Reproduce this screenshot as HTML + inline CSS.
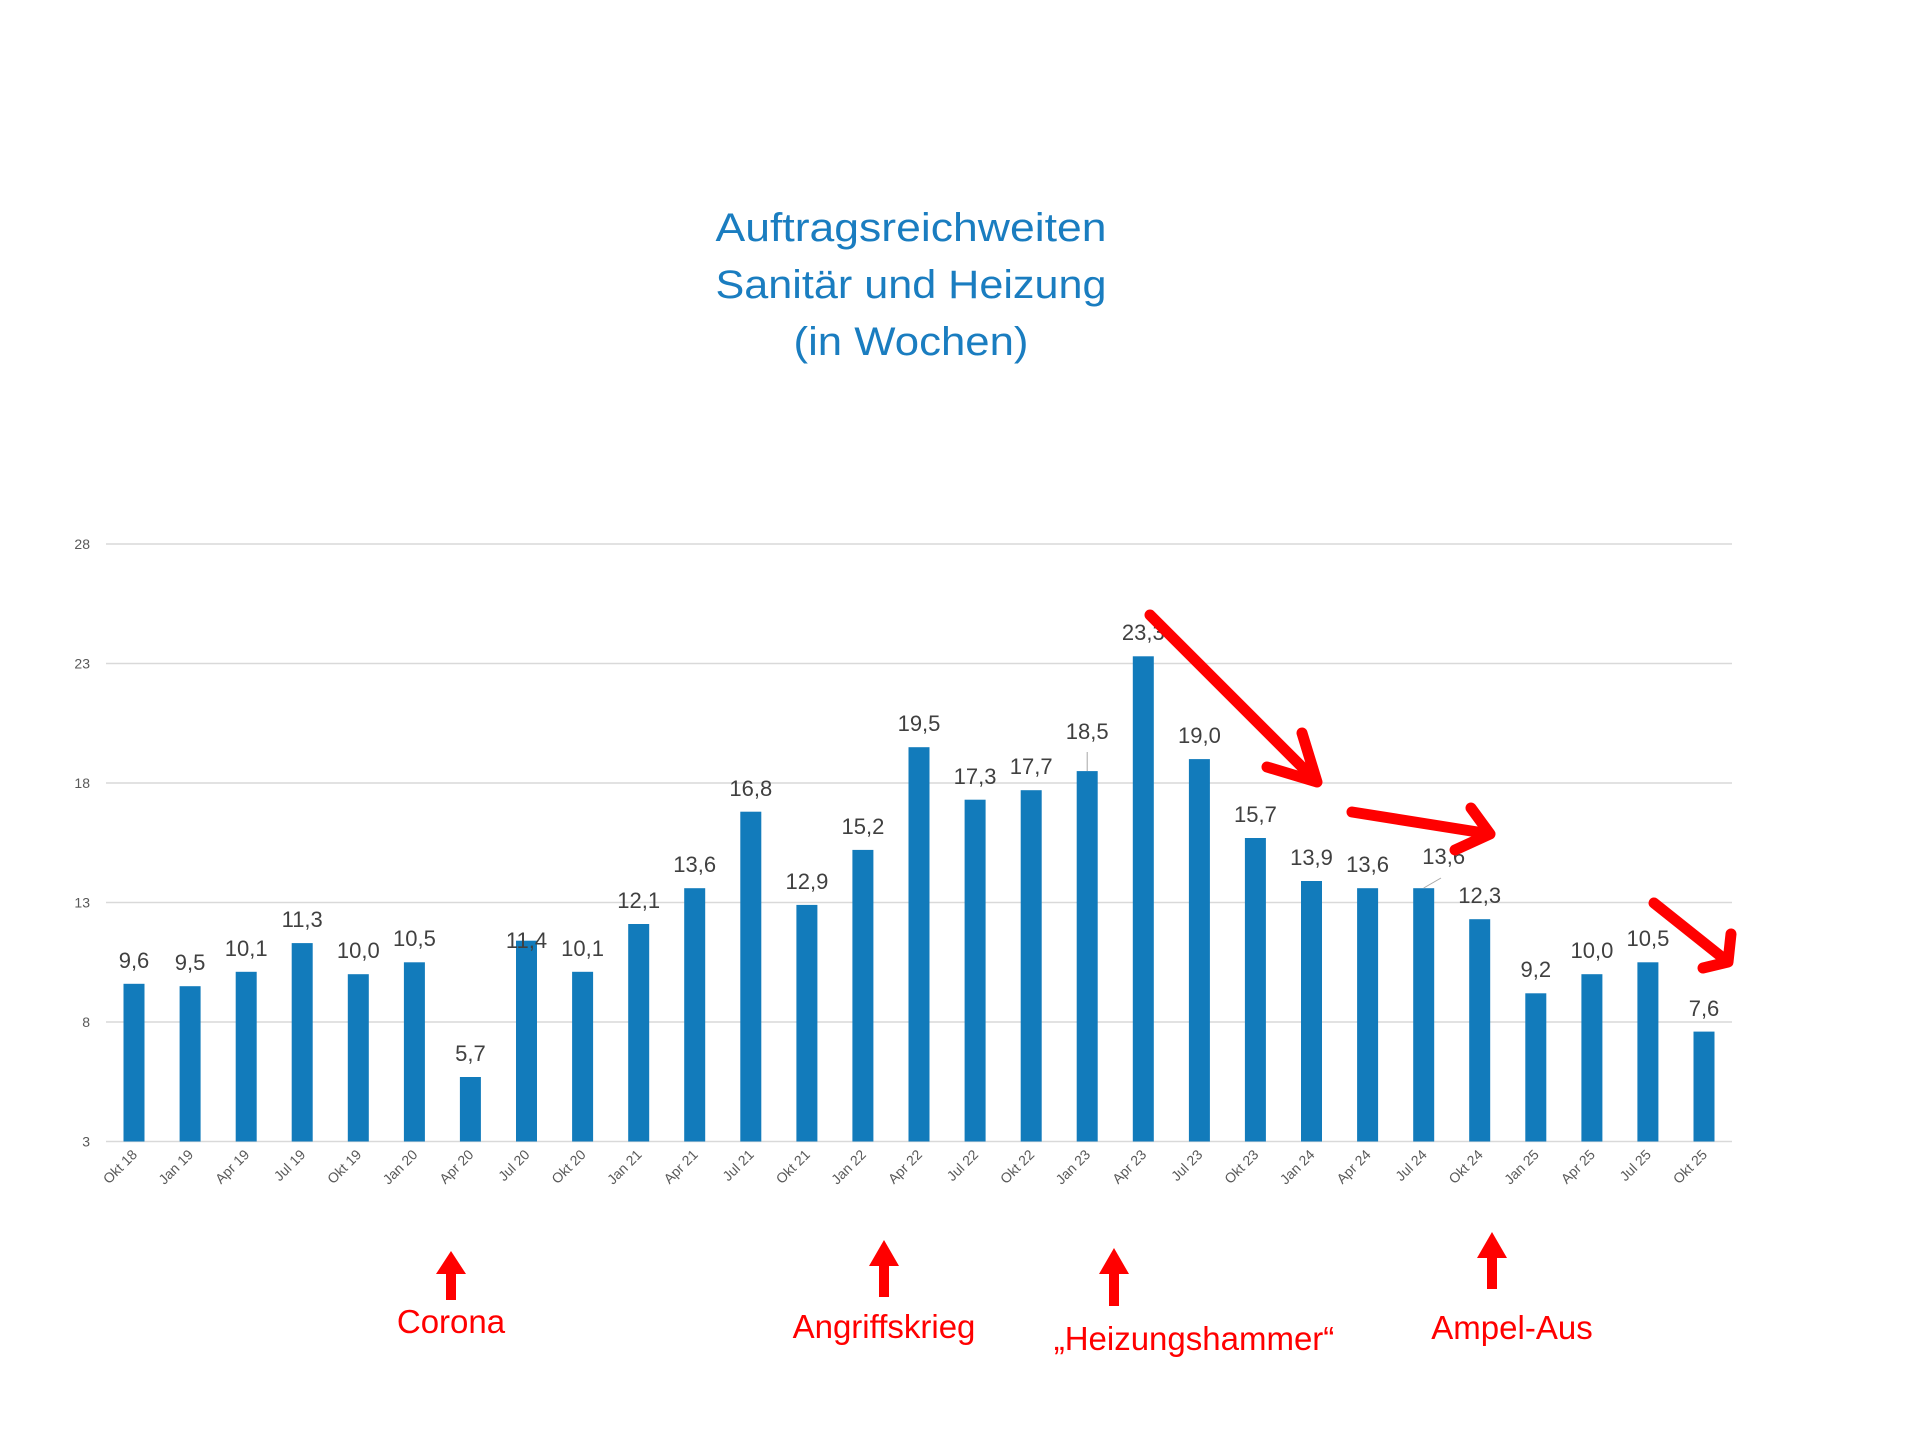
<!DOCTYPE html>
<html><head><meta charset="utf-8"><style>
html,body{margin:0;padding:0;background:#fff;}
svg{display:block;}
</style></head><body>
<svg width="1916" height="1439" viewBox="0 0 1916 1439" xmlns="http://www.w3.org/2000/svg" font-family="'Liberation Sans', sans-serif">
<g fill="#1a7dc0" font-size="40" text-anchor="middle">
<text x="911" y="241" textLength="391" lengthAdjust="spacingAndGlyphs">Auftragsreichweiten</text>
<text x="911" y="298" textLength="391" lengthAdjust="spacingAndGlyphs">Sanitär und Heizung</text>
<text x="911" y="355" textLength="235" lengthAdjust="spacingAndGlyphs">(in Wochen)</text>
</g>
<g stroke="#d9d9d9" stroke-width="1.5">
<line x1="106" x2="1732" y1="544" y2="544"/>
<line x1="106" x2="1732" y1="663.5" y2="663.5"/>
<line x1="106" x2="1732" y1="783" y2="783"/>
<line x1="106" x2="1732" y1="902.5" y2="902.5"/>
<line x1="106" x2="1732" y1="1022" y2="1022"/>
<line x1="106" x2="1732" y1="1141.5" y2="1141.5"/>
</g>
<g font-size="14" fill="#595959" text-anchor="end">
<text x="90" y="549">28</text>
<text x="90" y="668.5">23</text>
<text x="90" y="788">18</text>
<text x="90" y="907.5">13</text>
<text x="90" y="1027">8</text>
<text x="90" y="1146.5">3</text>
</g>
<g fill="#127bbb">
<rect x="123.5" y="983.8" width="21" height="157.7"/>
<rect x="179.6" y="986.2" width="21" height="155.3"/>
<rect x="235.7" y="971.8" width="21" height="169.7"/>
<rect x="291.7" y="943.1" width="21" height="198.4"/>
<rect x="347.8" y="974.2" width="21" height="167.3"/>
<rect x="403.9" y="962.3" width="21" height="179.2"/>
<rect x="459.9" y="1077.0" width="21" height="64.5"/>
<rect x="516.0" y="940.7" width="21" height="200.8"/>
<rect x="572.1" y="971.8" width="21" height="169.7"/>
<rect x="628.2" y="924.0" width="21" height="217.5"/>
<rect x="684.2" y="888.2" width="21" height="253.3"/>
<rect x="740.3" y="811.7" width="21" height="329.8"/>
<rect x="796.4" y="904.9" width="21" height="236.6"/>
<rect x="852.4" y="849.9" width="21" height="291.6"/>
<rect x="908.5" y="747.2" width="21" height="394.3"/>
<rect x="964.6" y="799.7" width="21" height="341.8"/>
<rect x="1020.7" y="790.2" width="21" height="351.3"/>
<rect x="1076.7" y="771.1" width="21" height="370.4"/>
<rect x="1132.8" y="656.3" width="21" height="485.2"/>
<rect x="1188.9" y="759.1" width="21" height="382.4"/>
<rect x="1244.9" y="838.0" width="21" height="303.5"/>
<rect x="1301.0" y="881.0" width="21" height="260.5"/>
<rect x="1357.1" y="888.2" width="21" height="253.3"/>
<rect x="1413.2" y="888.2" width="21" height="253.3"/>
<rect x="1469.2" y="919.2" width="21" height="222.3"/>
<rect x="1525.3" y="993.3" width="21" height="148.2"/>
<rect x="1581.4" y="974.2" width="21" height="167.3"/>
<rect x="1637.4" y="962.3" width="21" height="179.2"/>
<rect x="1693.5" y="1031.6" width="21" height="109.9"/>
</g>
<g stroke="#a6a6a6" stroke-width="1">
<line x1="1087.2" y1="771" x2="1087.2" y2="752"/>
<line x1="1423.7" y1="888" x2="1441" y2="878"/>
</g>
<g font-size="22" fill="#404040" text-anchor="middle" transform="translate(0,-6)">
<text x="134.0" y="974">9,6</text>
<text x="190.1" y="976">9,5</text>
<text x="246.2" y="962">10,1</text>
<text x="302.2" y="933">11,3</text>
<text x="358.3" y="964">10,0</text>
<text x="414.4" y="952">10,5</text>
<text x="470.4" y="1067">5,7</text>
<text x="526.5" y="954">11,4</text>
<text x="582.6" y="962">10,1</text>
<text x="638.7" y="914">12,1</text>
<text x="694.7" y="878">13,6</text>
<text x="750.8" y="802">16,8</text>
<text x="806.9" y="895">12,9</text>
<text x="862.9" y="840">15,2</text>
<text x="919.0" y="737">19,5</text>
<text x="975.1" y="790">17,3</text>
<text x="1031.2" y="780">17,7</text>
<text x="1087.2" y="745">18,5</text>
<text x="1143.3" y="646">23,3</text>
<text x="1199.4" y="749">19,0</text>
<text x="1255.4" y="828">15,7</text>
<text x="1311.5" y="871">13,9</text>
<text x="1367.6" y="878">13,6</text>
<text x="1443.7" y="870">13,6</text>
<text x="1479.7" y="909">12,3</text>
<text x="1535.8" y="983">9,2</text>
<text x="1591.9" y="964">10,0</text>
<text x="1647.9" y="952">10,5</text>
<text x="1704.0" y="1022">7,6</text>
</g>
<g font-size="14" fill="#595959" text-anchor="end">
<text transform="translate(138.0,1155.5) rotate(-45)">Okt 18</text>
<text transform="translate(194.1,1155.5) rotate(-45)">Jan 19</text>
<text transform="translate(250.2,1155.5) rotate(-45)">Apr 19</text>
<text transform="translate(306.2,1155.5) rotate(-45)">Jul 19</text>
<text transform="translate(362.3,1155.5) rotate(-45)">Okt 19</text>
<text transform="translate(418.4,1155.5) rotate(-45)">Jan 20</text>
<text transform="translate(474.4,1155.5) rotate(-45)">Apr 20</text>
<text transform="translate(530.5,1155.5) rotate(-45)">Jul 20</text>
<text transform="translate(586.6,1155.5) rotate(-45)">Okt 20</text>
<text transform="translate(642.7,1155.5) rotate(-45)">Jan 21</text>
<text transform="translate(698.7,1155.5) rotate(-45)">Apr 21</text>
<text transform="translate(754.8,1155.5) rotate(-45)">Jul 21</text>
<text transform="translate(810.9,1155.5) rotate(-45)">Okt 21</text>
<text transform="translate(866.9,1155.5) rotate(-45)">Jan 22</text>
<text transform="translate(923.0,1155.5) rotate(-45)">Apr 22</text>
<text transform="translate(979.1,1155.5) rotate(-45)">Jul 22</text>
<text transform="translate(1035.2,1155.5) rotate(-45)">Okt 22</text>
<text transform="translate(1091.2,1155.5) rotate(-45)">Jan 23</text>
<text transform="translate(1147.3,1155.5) rotate(-45)">Apr 23</text>
<text transform="translate(1203.4,1155.5) rotate(-45)">Jul 23</text>
<text transform="translate(1259.4,1155.5) rotate(-45)">Okt 23</text>
<text transform="translate(1315.5,1155.5) rotate(-45)">Jan 24</text>
<text transform="translate(1371.6,1155.5) rotate(-45)">Apr 24</text>
<text transform="translate(1427.7,1155.5) rotate(-45)">Jul 24</text>
<text transform="translate(1483.7,1155.5) rotate(-45)">Okt 24</text>
<text transform="translate(1539.8,1155.5) rotate(-45)">Jan 25</text>
<text transform="translate(1595.9,1155.5) rotate(-45)">Apr 25</text>
<text transform="translate(1651.9,1155.5) rotate(-45)">Jul 25</text>
<text transform="translate(1708.0,1155.5) rotate(-45)">Okt 25</text>
</g>
<g stroke="#ff0000" stroke-width="11" stroke-linecap="round" stroke-linejoin="round" fill="none">
<path d="M1150 615 L1317 782 M1267 767 L1317 782 L1302 733"/>
<path d="M1352 812 L1490 834 M1471 808 L1490 834 L1455 850"/>
<path d="M1654 903 L1728 962 M1703 968 L1728 962 L1731 934"/>
</g>
<g fill="#ff0000">
<path d="M446 1300 L446 1274 L436 1274 L451 1251 L466 1274 L456 1274 L456 1300 Z"/>
<path d="M879 1297 L879 1266 L869 1266 L884 1240 L899 1266 L889 1266 L889 1297 Z"/>
<path d="M1109 1306 L1109 1274 L1099 1274 L1114 1248 L1129 1274 L1119 1274 L1119 1306 Z"/>
<path d="M1487 1289 L1487 1258 L1477 1258 L1492 1232 L1507 1258 L1497 1258 L1497 1289 Z"/>
</g>
<g fill="#ff0000" font-size="33" text-anchor="middle">
<text x="451" y="1333">Corona</text>
<text x="884" y="1338">Angriffskrieg</text>
<text x="1194" y="1350">„Heizungshammer“</text>
<text x="1512" y="1339">Ampel-Aus</text>
</g>
</svg>
</body></html>
